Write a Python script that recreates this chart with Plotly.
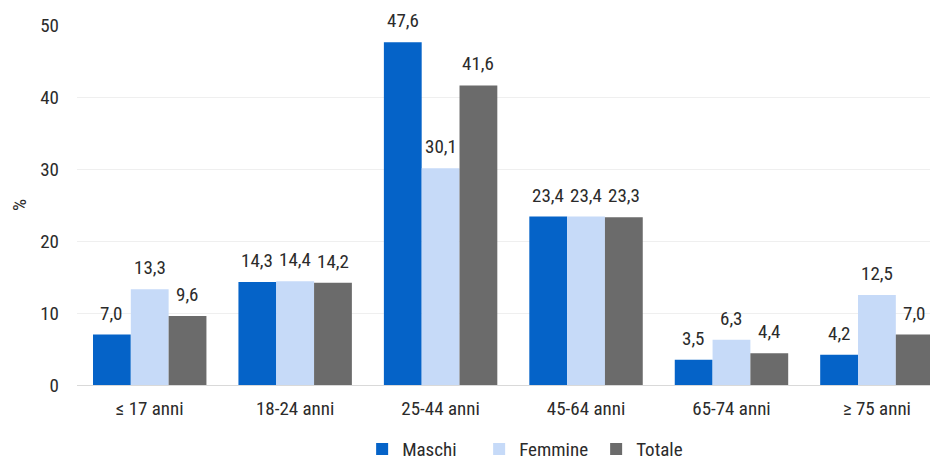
import plotly.graph_objects as go

categorie = ["≤ 17 anni", "18-24 anni", "25-44 anni", "45-64 anni", "65-74 anni", "≥ 75 anni"]
maschi = [7.0, 14.3, 47.6, 23.4, 3.5, 4.2]
femmine = [13.3, 14.4, 30.1, 23.4, 6.3, 12.5]
totale = [9.6, 14.2, 41.6, 23.3, 4.4, 7.0]

serie = [
    ("Maschi", maschi, "#0563C8"),
    ("Femmine", femmine, "#C6DAF8"),
    ("Totale", totale, "#6B6B6B"),
]

font_fam = "Roboto Condensed, Liberation Sans Narrow, Arial Narrow, Roboto, Arial"
testo = "#2b2b2b"
peso = 400

# la pagina ha un margine di 8px attorno al grafico
W, H = 930, 453
ml, mr, mt, mb = 69, 0, 17, 76
x_range = [-0.5, 5.42]
bargap = 0.22

fig = go.Figure()
for nome, valori, colore in serie:
    fig.add_trace(go.Bar(
        x=categorie,
        y=valori,
        name=nome,
        marker=dict(color=colore, line=dict(width=0)),
    ))

# etichette sopra le barre
px_cat = (W - ml - mr) / (x_range[1] - x_range[0])
bar_px = px_cat * (1 - bargap) / len(serie)
for i, (nome, valori, colore) in enumerate(serie):
    for cat, v in zip(categorie, valori):
        fig.add_annotation(
            x=cat, y=v,
            text=f"{v:.1f}".replace(".", ","),
            showarrow=False,
            xshift=(i - 1) * bar_px,
            yshift=8,
            yanchor="bottom",
            font=dict(size=19, color=testo, weight=peso),
        )

fig.update_layout(
    width=W,
    height=H,
    barmode="group",
    bargap=bargap,
    bargroupgap=0,
    plot_bgcolor="white",
    paper_bgcolor="white",
    font=dict(family=font_fam, size=19, color=testo, weight=peso),
    margin=dict(l=ml, r=mr, t=mt, b=mb, autoexpand=False),
    legend=dict(
        orientation="h",
        x=0.535, xanchor="center",
        y=-0.178, yanchor="middle",
        font=dict(size=19, color=testo, weight=peso),
        itemwidth=30,
        entrywidth=72,
        tracegroupgap=0,
    ),
)

fig.update_xaxes(
    range=x_range,
    showgrid=False,
    showline=True,
    linecolor="#d9d9d9",
    tickfont=dict(size=19, color=testo, weight=peso),
    ticks="",
    ticklabelstandoff=6,
)
fig.update_yaxes(
    range=[0, 50],
    dtick=10,
    showgrid=True,
    gridcolor="#efefef",
    zeroline=False,
    tickfont=dict(size=19, color=testo, weight=peso),
    title=dict(text="%", font=dict(size=19, color=testo, weight=peso), standoff=14),
    ticklabelstandoff=17,
)

fig.write_html("out.html")
